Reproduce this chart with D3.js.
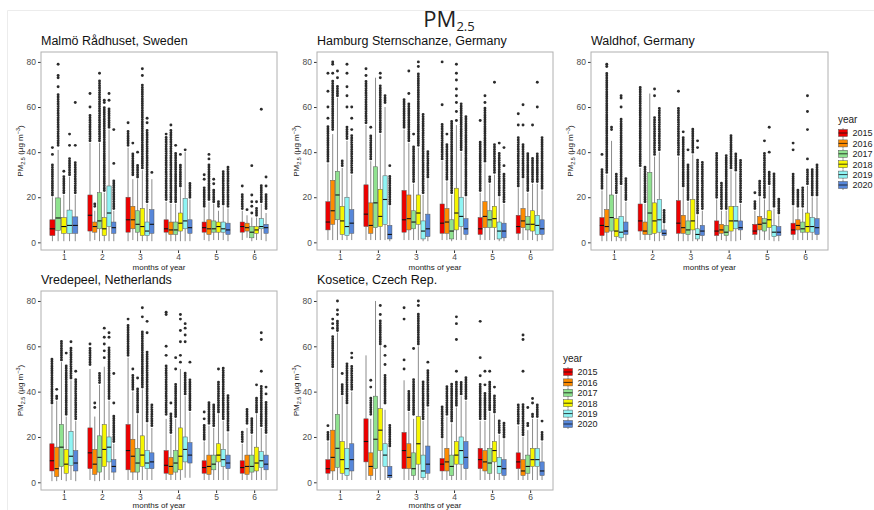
<!DOCTYPE html>
<html>
<head>
<meta charset="utf-8">
<script src="https://cdn.jsdelivr.net/npm/d3@7"></script>
<style>
  body { margin: 0; background: #fff; }
  svg { display: block; font-family: "Liberation Sans", Arial, sans-serif; }
</style>
</head>
<body>
<svg id="chart" width="874" height="510"></svg>
<script>
var months = [1, 2, 3, 4, 5, 6];
var years = ['2015', '2016', '2017', '2018', '2019', '2020'];
var yearColors = ['#ee0000', '#ff8c00', '#8fe28f', '#f6f600', '#8ff4f4', '#5787da'];
var yTicks = [0, 20, 40, 60, 80];

// box stats per month, one entry per year: [low whisker, q1, median, q3, high whisker]; null = no data
// outliers per box: [dense run from, dense run to, ...single points]
var malmoBoxes = [
    [[0.5,3,6,10,20], null, [0.5,5.3,10.8,19.7,41], [0.5,4,7,11,21], [0.5,4,7.5,14.3,29], [0.5,4,7.5,11.3,21]],
    [[0.5,5,12,21,44], [1,4.5,7,9,14], [0.5,6,9.5,22,44], [0.5,3,6,11,22], [0.5,7,13,25,50], [0.5,4,6.5,9,14]],
    [[0.5,4.5,10,20,42], [1,6,10,16,28], [0.5,4.5,8,14,28], [0.5,3,7,15,32], [0.5,3,5,9,17], [0.5,4,8,14.5,28]],
    [[0.5,4.5,6,10,18], [0.5,3.5,5.5,9,17], [0.5,3.5,5.5,9,17], [0.5,5,8.5,13,24], [0.5,6,9.5,19.5,40], [0.5,4,6.5,10,19]],
    [[1,4.5,6.5,9,15], [0.5,3.5,6,10,18], [1,4.5,6,9.5,17], [1,4.5,7,9,14], [1,4.5,6,9,16], [0.5,3.5,5.5,8.5,15]],
    [[1,4.5,7,9,14], [2,5,6.5,8.5,12], [0.5,2,4.5,7,11], [1,4,5.5,7,11], [1,6,7,10.5,17], [0.5,4,6.5,8,13]]
];
var malmoOutliers = [
    [[21,35,39,42], null, [43,66,69,73,74,79], [22,30,31.5], [30,38,43,48], [22,36,43,62]],
    [[45,57,60,66], [16,18], [45,72,75], [23,60,62,63], [51,60,63,66], [15,28,35,50]],
    [[43,50,53], [30,40,44], [29,35,40], [33,70,74,77], [18,50,53,55], [null,null,31]],
    [[19,47,48], [18,50,52], [18,40,43], [25,35,39], [null,null,41], [20,27]],
    [[16,25,28,30], [19,35,37,39], [18,24,26,28], [16,19], [17,32], [16,34]],
    [[15,22,25], [null,null,14.5], [null,null,13,16,18,21,34], [12,16,18], [18,26,59], [15,22,25,29]]
];

var hamburgBoxes = [
    [[1,5.5,9,18,35], [1,8,14,27.5,48], [1,10,21,31.5,64], [1,3.5,9.5,16,33], [1,3,7,20,45], [1,4,8.5,14.5,30]],
    [[1,7,12.5,25.5,52], [1,4,7.5,17.5,36], [1,6.5,17.5,33.5,73], [1,7,11.5,23.5,48], [1,8,19,29.5,60], [0.5,1.5,3.5,7.5,16]],
    [[1,4.5,10,23,50], [1,5.5,10.5,21,44], [1,6,9,14,26], [1,8,13,21,42], [0.5,1.5,5,9.5,21], [0.5,2.5,6,12.5,28]],
    [[1,4,8.5,17,36], [1,4,9,15,27], [0.5,1.5,5,10,21], [1,5.5,13,24,52], [1,7,11.5,20,40], [1,3.5,6,10.5,20]],
    [[1,3.5,6,11,22], [1,6.5,11.5,18,35], [1,6.5,10,14,26], [1,6.5,10.5,16,30], [0.5,1.5,5,9,20], [0.5,2,5,8.5,17]],
    [[1,4,7,12,24], [1,6.5,9.5,15,28], [1,5.5,8,11.5,22], [1,5,8,14,26], [0.5,3.5,7.5,12,26], [1,3.5,6,10,23]]
];
var hamburgOutliers = [
    [[36,52,55,60,67,75], [50,72,75,79,80], [65,70,73,76], [34,37], [46,52,60,65,69,75,79], [31,48,50,55,60]],
    [[53,72,74,77], [37,48,51], [], [49,70,73,75], [62,66], [17,30,34]],
    [[51,64], [45,62,66,76], [27,43,48], [43,75,78,80], [22,57], [29,41]],
    [[37,53,61,80], [28,44,48], [22,54], [null,null,54,58,62,65,68,72,75,79], [41,62], [21,56]],
    [[23,45,54], [36,60,62,65], [27,30], [31,44,71], [21,40,44], [18,31,34,42]],
    [[25,47,52,57], [29,44,52,61], [23,40], [27,38,52], [27,40,60,71], [24,47]]
];

var waldhofBoxes = [
    [[0.5,3,7.5,11,23], [0.5,4.5,7,14.5,30], [0.5,5,11,21,45], [0.5,2.5,5,10.5,21], [0.5,2,4.5,11.5,25], [0.5,3.5,5,9,18]],
    [[1,5,9.5,17,33], [1,3.5,5,9,17], [1,3.5,13,31,66], [0.5,4,9.5,17.5,38], [0.5,4.5,10,19,40], [1,3,4,5.5,8]],
    [[0.5,4,8.5,18.5,38], [0.5,4,6.5,12,24], [0.5,3.5,5.5,9.5,18], [0.5,5.5,9.5,19,39], [0.5,1.5,3.5,6,12], [0.5,3,5,7.5,14]],
    [[0.5,3,5,9.5,19], [1,4,5.5,8,14], [0.5,3,4.5,7.5,14], [0.5,5,9.5,16,32], [0.5,6,9.5,16,31], [1,5.5,6.5,9.5,17]],
    [[1,3.5,5,8,14], [1,5.5,8,11.5,20], [1,5,8.5,10.5,19], [1,6.5,10,14,25], [0.5,2.5,4.5,7.5,15], [0.5,3,4.5,7,12]],
    [[1,3.5,5.5,8.5,16], [1,5.5,7.5,10,15], [1,4.5,6,9,15], [1,4.5,7,13,25], [1,4.5,7,11,20], [1,3.5,6.5,10.5,20]]
];
var waldhofOutliers = [
    [[24,33,39], [31,75,78,79], [50,52], [22,31], [26,55,60,64,65], [19,29]],
    [[34,69], [18,34], [], [39,56,65,68], [41,60], [9,15]],
    [[39,60,67], [25,47,49], [19,35,41], [40,51], [13,37,42,45], [15,36]],
    [[20,40], [15,27], [15,39], [33,48], [32,40], [18,37]],
    [[15,19,22], [21,28], [20,40,45], [26,32,40,51], [16,31], [13,20]],
    [[17,31,41,44], [16,24], [16,25], [26,33,37,50,58,65], [21,33], [21,35]]
];

var vredepeelBoxes = [
    [[0.5,5,9.5,17,34], [0.5,2.5,6,15.5,36], [1,7,15.5,25.5,53], [0.5,4,8,14.5,29], [1,7.5,11.5,22.5,45], [0.5,5,8.5,14,27]],
    [[1,6,13,24,50], [0.5,3.5,8,14.5,29], [0.5,4.5,11,20.5,43], [1,7,14.5,25.5,51], [1,9,15.5,20,36], [1,4.5,7,10,17]],
    [[1,5.5,14,25.5,55], [1,4.5,11.5,19,40], [1,4.5,8.5,15,30], [1,7,12,20.5,41], [1,6,8.5,14,26], [1,6,9,13,24]],
    [[1,4,7.5,14,28], [1,3.5,7,11,21], [1,4.5,8.5,14,28], [1,5.5,11.5,24,50], [2,9,14.5,20,38], [2,8.5,12,17.5,31]],
    [[1,4,6.5,9.5,18], [1,3.5,7,12,25], [1,5.5,8,12,24], [1,9,12,17,30], [1,7,10,14.5,27], [1,6,8.5,12,22]],
    [[1,4,6.5,9.5,17], [1,3.5,7,12,24], [1,4.5,7,12,21], [1,5,8.5,15.5,30], [1,6.5,9.5,13.5,24], [1,5.5,8,12,21]]
];
var vredepeelOutliers = [
    [[35,55], [37,39,41], [54,63], [30,52,57], [46,60,62], [28,46,49]],
    [[52,60,61], [null,null,33,35], [44,49], [null,null,55,58,61,64,68], [37,60,64,66], [18,30,35,48]],
    [[56,70,72], [41,48,50], [31,42,46], [42,67,73,77], [27,58,66,71], [25,35]],
    [[30,52,56,60,74,75], [22,31,35], [29,44,50,55], [null,null,53,56,62,67,72,74], [39,49,62,65,68,70], [32,46,53]],
    [[19,26,28,31], [26,36], [25,35], [31,45,50], [28,51], [23,39]],
    [[18,23], [26,33], [22,29], [31,38,43], [25,43,49,63,66], [22,36,39,42]]
];

var koseticeBoxes = [
    [[1,4,6,10,18], [1,5,11,23,50], [1,6.5,15,30,66], [1,4,10,18,38], [1,3,6,15,34], [1,5,10,17,40]],
    [[1,9,18,28,56], [1,3,7,13,28], [1,6,19,38,80], [1,14,23,32.5,60], [1,7,12,17,32], [1,2,3,7,15]],
    [[1,6,14,22,45], [1,6,11,17,31], [1,3,6,13,28], [1,8,17,29,60], [1,2,5,12,27], [1,4,8,16,33]],
    [[1,5,8,10.5,19], [1,5,9,15,29], [1,3,7,12,26], [1,8,12,18,33], [1,8,14,20,38], [1,6,11,18,36]],
    [[1,6,10,15,27], [1,5,9,14,27], [1,4,8.5,15,31], [1,9,14,18,30], [1,4,7,11,21], [1,3,6,10,19]],
    [[1,6,9,13,25], [1,3,5,10,20], [1,4,7,12,23], [1,7,10,15,28], [1,7,10,15,28], [1,3,5,9,18]]
];
var koseticeOutliers = [
    [[19,23,25], [51,65,68,70,72], [67,72,74,76,80], [39,44,48], [35,53], [41,52,55,57]],
    [[], [30,38,42,45], [], [61,72,74,78], [35,48,52,56,60], [16,26]],
    [[null,null,50,54,72,77], [32,41], [30,46,59], [61,75,78,80], [28,45], [34,50,53]],
    [[20,34], [30,43], [27,44], [34,45,49,63,70,73], [39,45], [37,47]],
    [[28,44,47,55,71], [28,40,43,49], [32,45,49], [31,39,42], [22,28], [20,27]],
    [[26,35], [21,35,49,63,65], [25,27,33], [29,31,35,37], [29,35], [19,23,27]]
];

var svg = d3.select('#chart');

// faint frame of the original screenshot
svg.append('path')
    .attr('d', 'M7.5,510V10.5H874')
    .attr('fill', 'none')
    .attr('stroke', '#ececec');

// main title
var mainTitle = svg.append('text')
    .attr('x', 449)
    .attr('y', 27)
    .attr('text-anchor', 'middle')
    .style('font-family', '"Open Sans", "DejaVu Sans", sans-serif')
    .style('font-size', '22px')
    .style('fill', '#222');
mainTitle.append('tspan').text('PM');
mainTitle.append('tspan').attr('dy', 4).style('font-size', '13px').text('2.5');

var panel = function(cfg){
    var g = svg.append('g')
        .attr('transform', 'translate(' + cfg.left + ',' + cfg.top + ')');

    var x = d3.scaleLinear().domain([0.4, 6.6]).range([0, cfg.width]);
    var y = d3.scaleLinear().domain([-3.4, 84.4]).range([cfg.height, 0]);

    svg.append('text')
        .attr('x', cfg.left)
        .attr('y', cfg.top - 7)
        .style('font-size', '12.5px')
        .style('fill', '#111')
        .text(cfg.name);

    g.append('rect')
        .attr('width', cfg.width)
        .attr('height', cfg.height)
        .attr('fill', '#fff');

    // y axis
    var yAxis = g.append('g')
        .call(d3.axisLeft(y).tickValues(yTicks).tickSize(3).tickPadding(2));
    // x axis
    var xAxis = g.append('g')
        .attr('transform', 'translate(0,' + cfg.height + ')')
        .call(d3.axisBottom(x).tickValues(months).tickFormat(d3.format('d')).tickSize(3).tickPadding(1));
    [yAxis, xAxis].forEach(function(ax){
        ax.select('.domain').remove();
        ax.selectAll('line').attr('stroke', '#333');
        ax.selectAll('text').style('font-size', '8.5px').style('fill', '#4d4d4d')
            .style('font-family', '"Liberation Sans", Arial, sans-serif');
    });

    svg.append('text')
        .attr('x', cfg.left + cfg.width / 2)
        .attr('y', cfg.top + cfg.height + cfg.xTitleGap)
        .attr('text-anchor', 'middle')
        .style('font-size', '8px')
        .style('fill', '#222')
        .text('months of year');

    var yTitle = svg.append('text')
        .attr('transform', 'translate(' + cfg.yTitleX + ',' + (cfg.top + cfg.height / 2) + ') rotate(-90)')
        .attr('text-anchor', 'middle')
        .style('font-size', '8px')
        .style('fill', '#222');
    yTitle.append('tspan').text('PM');
    yTitle.append('tspan').attr('dy', 2).style('font-size', '5.5px').text('2.5');
    yTitle.append('tspan').attr('dy', -2).text(' (\u00b5g m');
    yTitle.append('tspan').attr('dy', -3).style('font-size', '5.5px').text('\u22123');
    yTitle.append('tspan').attr('dy', 3).text(')');

    // flatten into one record per box, dodged inside each month
    var items = [];
    months.forEach(function(m, mi){
        var present = [];
        years.forEach(function(yr, yi){
            if(cfg.boxes[mi][yi]) present.push(yi);
        });
        var slot = 0.75 / present.length;
        present.forEach(function(yi, k){
            var c = m - 0.375 + slot * (k + 0.5);
            items.push({
                year: yi,
                x0: x(c - slot * 0.45),
                x1: x(c + slot * 0.45),
                cx: x(c),
                s: cfg.boxes[mi][yi],
                out: cfg.outliers[mi][yi]
            });
        });
    });

    var boxG = g.selectAll('g.box')
        .data(items)
        .enter().append('g')
        .attr('class', 'box');

    boxG.append('path')
        .attr('class', 'whisker')
        .attr('d', function(d){
            return 'M' + d.cx + ',' + y(d.s[0]) + 'V' + y(d.s[1]) +
                'M' + d.cx + ',' + y(d.s[3]) + 'V' + y(d.s[4]);
        })
        .attr('stroke', '#8c8c8c')
        .attr('stroke-width', 1)
        .attr('fill', 'none');

    boxG.append('rect')
        .attr('x', function(d){ return d.x0; })
        .attr('width', function(d){ return d.x1 - d.x0; })
        .attr('y', function(d){ return y(d.s[3]); })
        .attr('height', function(d){ return y(d.s[1]) - y(d.s[3]); })
        .attr('fill', function(d){ return yearColors[d.year]; })
        .attr('stroke', '#555')
        .attr('stroke-width', 0.5);

    boxG.append('line')
        .attr('x1', function(d){ return d.x0; })
        .attr('x2', function(d){ return d.x1; })
        .attr('y1', function(d){ return y(d.s[2]); })
        .attr('y2', function(d){ return y(d.s[2]); })
        .attr('stroke', '#111')
        .attr('stroke-width', 1.1);

    // dense runs of outliers, drawn as a column of touching dots
    boxG.filter(function(d){ return d.out.length > 1 && d.out[0] !== null; })
        .append('line')
        .attr('x1', function(d){ return d.cx; })
        .attr('x2', function(d){ return d.cx; })
        .attr('y1', function(d){ return y(d.out[0]); })
        .attr('y2', function(d){ return y(d.out[1]); })
        .attr('stroke', '#2b2b2b')
        .attr('stroke-width', 2.9)
        .attr('stroke-dasharray', '0 2.3')
        .attr('stroke-linecap', 'round');

    // single outliers
    boxG.selectAll('circle')
        .data(function(d){
            return d.out.slice(2).map(function(v){ return {cx: d.cx, v: v}; });
        })
        .enter().append('circle')
        .attr('cx', function(d){ return d.cx; })
        .attr('cy', function(d){ return y(d.v); })
        .attr('r', 1.45)
        .attr('fill', '#2b2b2b');

    g.append('rect')
        .attr('width', cfg.width)
        .attr('height', cfg.height)
        .attr('fill', 'none')
        .attr('stroke', '#b0b0b0')
        .attr('stroke-width', 1);
};

var legend = function(left, top){
    var lg = svg.append('g').attr('transform', 'translate(' + left + ',' + top + ')');
    lg.append('text')
        .attr('y', 4)
        .style('font-size', '10px')
        .style('fill', '#222')
        .text('year');
    var row = lg.selectAll('g.key')
        .data(years)
        .enter().append('g')
        .attr('class', 'key')
        .attr('transform', function(d, i){ return 'translate(0,' + (14 + i * 10.4) + ')'; });
    row.append('line')
        .attr('x1', 5).attr('x2', 5).attr('y1', -5).attr('y2', 5)
        .attr('stroke', '#8c8c8c');
    row.append('rect')
        .attr('x', 0.5).attr('y', -3.5).attr('width', 9).attr('height', 7)
        .attr('fill', function(d, i){ return yearColors[i]; })
        .attr('stroke', '#555').attr('stroke-width', 0.5);
    row.append('line')
        .attr('x1', 0.5).attr('x2', 9.5).attr('y1', 0).attr('y2', 0)
        .attr('stroke', '#111').attr('stroke-width', 0.8);
    row.append('text')
        .attr('x', 14.5)
        .attr('y', 3.3)
        .style('font-size', '9px')
        .style('fill', '#222')
        .text(function(d){ return d; });
};

panel({name: 'Malmö Rådhuset, Sweden', left: 41, top: 52, width: 236, height: 198,
    boxes: malmoBoxes, outliers: malmoOutliers, yTitleX: 23, xTitleGap: 20});
panel({name: 'Hamburg Sternschanze, Germany', left: 317, top: 52, width: 236, height: 198,
    boxes: hamburgBoxes, outliers: hamburgOutliers, yTitleX: 299, xTitleGap: 20});
panel({name: 'Waldhof, Germany', left: 591, top: 52, width: 237, height: 198,
    boxes: waldhofBoxes, outliers: waldhofOutliers, yTitleX: 573, xTitleGap: 20});
panel({name: 'Vredepeel, Netherlands', left: 41, top: 291, width: 236, height: 199,
    boxes: vredepeelBoxes, outliers: vredepeelOutliers, yTitleX: 23, xTitleGap: 18.3});
panel({name: 'Kosetice, Czech Rep.', left: 317, top: 291, width: 236, height: 199,
    boxes: koseticeBoxes, outliers: koseticeOutliers, yTitleX: 299, xTitleGap: 18.3});

legend(838, 119);
legend(563, 358);
</script>
</body>
</html>
